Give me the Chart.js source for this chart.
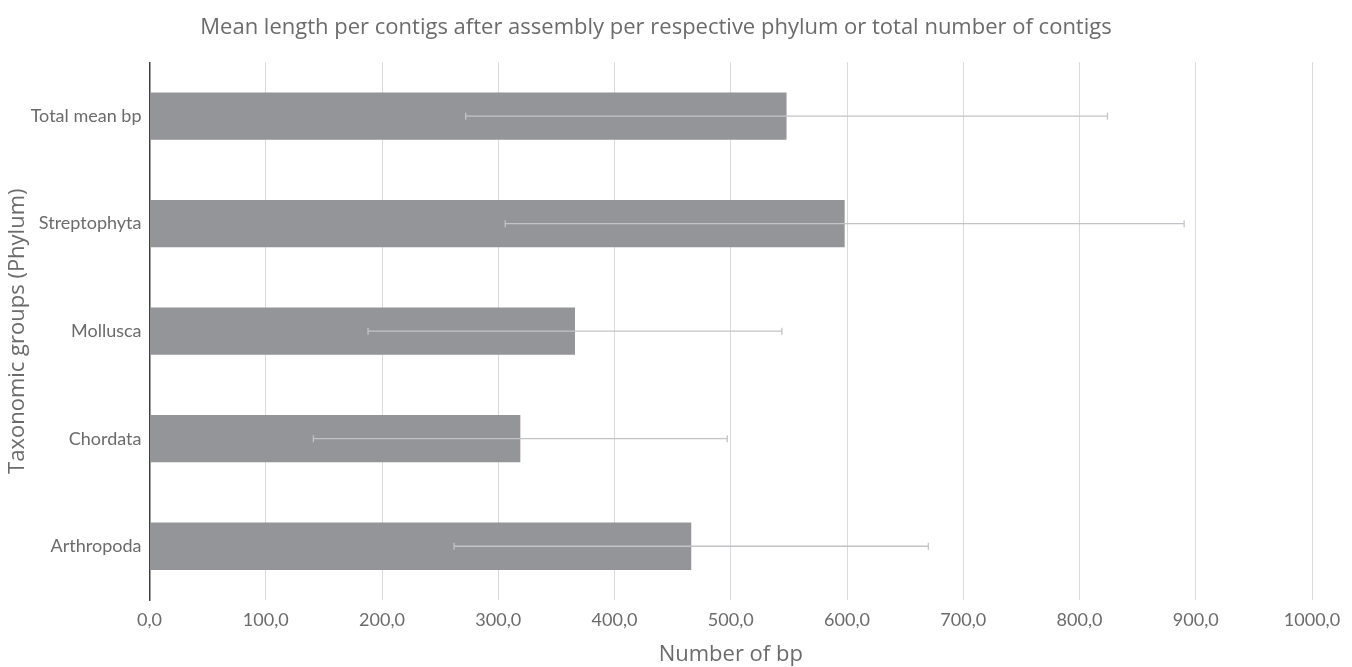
<!DOCTYPE html>
<html>
<head>
<meta charset="utf-8">
<script src="https://cdn.jsdelivr.net/npm/chart.js@4.4.1/dist/chart.umd.min.js"></script>
<style>
html,body{margin:0;padding:0;background:#fff;}
#wrap{width:1352px;height:667px;position:relative;}
</style>
</head>
<body>
<div id="wrap"><canvas id="c" width="1352" height="667"></canvas></div>
<script>
const categories = ["Total mean bp", "Streptophyta", "Mollusca", "Chordata", "Arthropoda"];
const meanBp = [548, 598, 366, 319, 466];
const errorBp = [276, 292, 178, 178, 204];
const xTicks = [0, 100, 200, 300, 400, 500, 600, 700, 800, 900, 1000];

const errorBarPlugin = {
  id: 'errorBars',
  afterDatasetsDraw(chart) {
    const ctx = chart.ctx;
    const xs = chart.scales.x;
    const meta = chart.getDatasetMeta(0);
    ctx.save();
    ctx.strokeStyle = '#c3c3c7';
    ctx.lineWidth = 1.3;
    meta.data.forEach((bar, i) => {
      const y = bar.y;
      const lo = xs.getPixelForValue(meanBp[i] - errorBp[i]);
      const hi = xs.getPixelForValue(meanBp[i] + errorBp[i]);
      ctx.beginPath();
      ctx.moveTo(lo, y); ctx.lineTo(hi, y);
      ctx.moveTo(lo, y - 3.5); ctx.lineTo(lo, y + 3.5);
      ctx.moveTo(hi, y - 3.5); ctx.lineTo(hi, y + 3.5);
      ctx.stroke();
    });
    ctx.restore();
  }
};

new Chart(document.getElementById('c'), {
  type: 'bar',
  data: {
    labels: categories,
    datasets: [{
      data: meanBp,
      backgroundColor: '#939598',
      borderWidth: 0,
      categoryPercentage: 1,
      barPercentage: 0.44
    }]
  },
  plugins: [errorBarPlugin],
  options: {
    indexAxis: 'y',
    responsive: false,
    animation: false,
    devicePixelRatio: 1,
    layout: { padding: { left: 0, right: 40, top: 0, bottom: 0 } },
    plugins: {
      legend: { display: false },
      tooltip: { enabled: false },
      title: {
        display: true,
        text: 'Mean length per contigs after assembly per respective phylum or total number of contigs',
        color: '#6b6b6b',
        font: { family: 'Open Sans', size: 22, weight: 'normal', lineHeight: 1.2 },
        padding: { top: 15, bottom: 21 }
      }
    },
    scales: {
      x: {
        min: 0, max: 1000,
        afterBuildTicks(s) { s.ticks = xTicks.map(v => ({ value: v })); },
        afterFit(s) { s.height = 67; },
        grid: { color: '#d9d9d9', lineWidth: 1, drawTicks: false },
        border: { display: false },
        ticks: {
          color: '#6b6b6b',
          font: { family: 'Lato', size: 18 },
          padding: 9,
          maxRotation: 0,
          autoSkip: false,
          callback: v => v.toFixed(1).replace('.', ',')
        },
        title: {
          display: true,
          text: 'Number of bp',
          color: '#6b6b6b',
          font: { family: 'Open Sans', size: 22, lineHeight: 1 },
          padding: { top: 2, bottom: 1 }
        }
      },
      y: {
        afterFit(s) { s.width = 149.5; },
        grid: { display: false, drawTicks: false },
        border: { display: true, color: '#404040', width: 1.5 },
        ticks: {
          color: '#6b6b6b',
          font: { family: 'Lato', size: 18 },
          padding: 8
        },
        title: {
          display: true,
          text: 'Taxonomic groups (Phylum)',
          color: '#6b6b6b',
          font: { family: 'Open Sans', size: 22, lineHeight: 1.2 },
          padding: { top: 5, bottom: 0 }
        }
      }
    }
  }
});
</script>
</body>
</html>
